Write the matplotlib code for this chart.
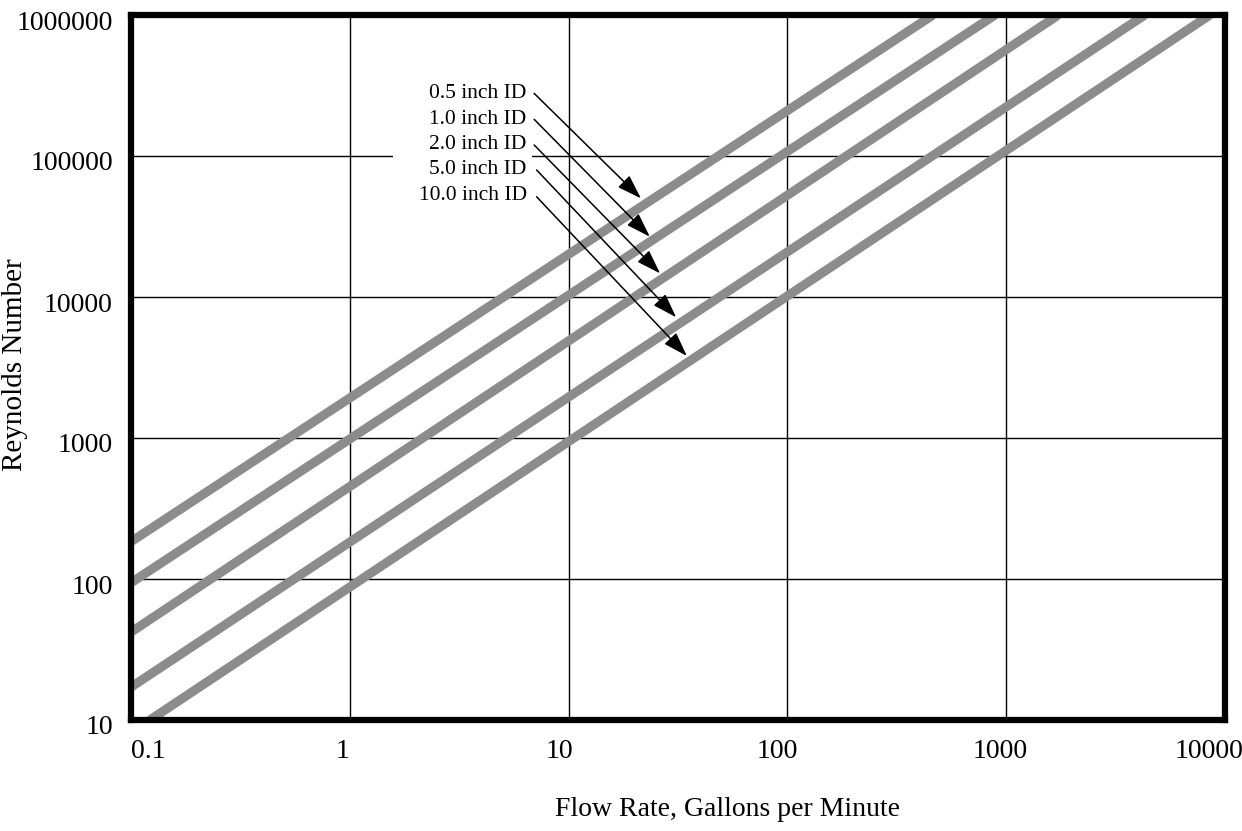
import numpy as np
import matplotlib
matplotlib.use("Agg")
import matplotlib.pyplot as plt
from matplotlib.patches import Rectangle, FancyArrowPatch
from matplotlib.transforms import ScaledTranslation

# Pipe inside diameters (inches) and the end points of each Reynolds-number line
pipe_ids = [0.5, 1.0, 2.0, 5.0, 10.0]
pipe_labels = ["0.5 inch ID", "1.0 inch ID", "2.0 inch ID", "5.0 inch ID", "10.0 inch ID"]
flow_start = [0.1, 0.1, 0.1, 0.1, 0.122]          # GPM at the lower-left end
reynolds_start = [184, 94, 42, 17.1, 10]          # Re at the lower-left end
flow_end = [463, 889, 1730, 4300, 8530]           # GPM at the upper-right end
reynolds_end = [1e6, 1e6, 1e6, 1e6, 1e6]          # Re at the upper-right end

x_ticks = [0.1, 1, 10, 100, 1000, 10000]
x_tick_labels = ["0.1", "1", "10", "100", "1000", "10000"]
y_ticks = [10, 100, 1000, 10000, 100000, 1000000]
y_tick_labels = ["10", "100", "1000", "10000", "100000", "1000000"]

# Label anchors (flow, Re) and arrow tips for the diameter call-outs
label_flow = 6.43
label_re = [259000, 170000, 112700, 74500, 49100]
arrow_start = [(6.96, 278000), (6.96, 182000), (6.96, 119700), (7.14, 79600), (7.14, 51400)]
arrow_tip = [(21.4, 50100), (23.5, 26800), (26.2, 14700), (31.0, 7180), (34.7, 3820)]

plt.rcParams["font.family"] = ["Liberation Serif", "DejaVu Serif"]

W, H = 1242, 831
fig = plt.figure(figsize=(W / 100, H / 100), dpi=100)
ax = fig.add_axes([131 / W, (H - 720) / H, (1225 - 131) / W, (720 - 15) / H])

ax.set_xscale("log")
ax.set_yscale("log")
ax.set_xlim(0.1, 10000)
ax.set_ylim(10, 1e6)

for qs, rs, qe, re_ in zip(flow_start, reynolds_start, flow_end, reynolds_end):
    ax.plot([qs, qe], [rs, re_], color="#8c8c8c", lw=6.6, solid_capstyle="butt",
            zorder=2, clip_on=True)

ax.set_xticks(x_ticks)
ax.set_xticklabels(x_tick_labels)
ax.set_yticks(y_ticks)
ax.set_yticklabels(y_tick_labels)
ax.xaxis.set_minor_locator(matplotlib.ticker.NullLocator())
ax.yaxis.set_minor_locator(matplotlib.ticker.NullLocator())
ax.tick_params(axis="both", length=0, labelsize=20, colors="black")
ax.tick_params(axis="x", pad=14)
ax.tick_params(axis="y", pad=13)

ax.set_axisbelow(True)
ax.grid(True, which="major", color="black", lw=1.0)

for sp in ax.spines.values():
    sp.set_linewidth(4.5)
    sp.set_color("black")
    sp.set_zorder(5)

# nudge tick labels the way they sit on the printed chart
x_shift_px = [17, -7, -9, -10, -6, -16]
for lab, dx in zip(ax.get_xticklabels(), x_shift_px):
    lab.set_transform(lab.get_transform() + ScaledTranslation(dx / 100, 0, fig.dpi_scale_trans))
for lab in ax.get_yticklabels():
    lab.set_transform(lab.get_transform() + ScaledTranslation(0, -5 / 100, fig.dpi_scale_trans))

# white backing behind the call-out labels
ax.add_patch(Rectangle((1.57, 44900), 6.78 - 1.57, 375000 - 44900, facecolor="white",
                       edgecolor="none", zorder=1))

for text, ly, s, t in zip(pipe_labels, label_re, arrow_start, arrow_tip):
    ax.text(label_flow, ly, text, ha="right", va="baseline", fontsize=15.5, zorder=6)
    arr = FancyArrowPatch(s, t, arrowstyle="-|>,head_length=1.5,head_width=0.5",
                          mutation_scale=10, color="black", lw=1.1, zorder=6,
                          shrinkA=0, shrinkB=0)
    ax.add_patch(arr)

fig.text(727 / W, 1 - 810 / H, "Flow Rate, Gallons per Minute", ha="center", va="center",
         fontsize=20)
fig.text(15 / W, 1 - 365 / H, "Reynolds Number", ha="center", va="center",
         rotation=90, fontsize=21)

fig.savefig("out.png", dpi=100, facecolor="white")
